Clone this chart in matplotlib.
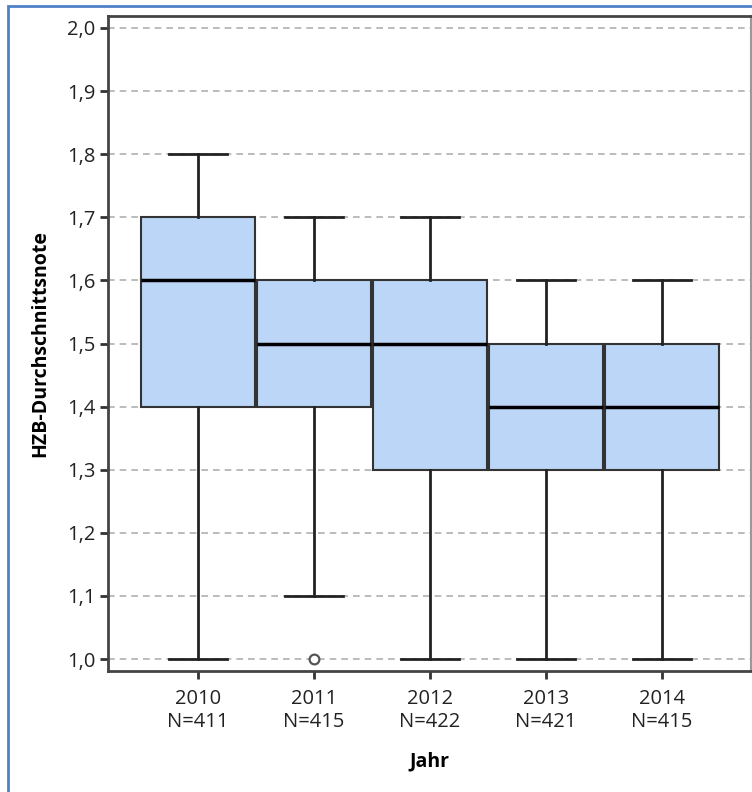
import matplotlib
matplotlib.use("Agg")
import matplotlib.pyplot as plt
from matplotlib.patches import Rectangle

years = ["2010", "2011", "2012", "2013", "2014"]
counts = [411, 415, 422, 421, 415]
whisker_lo = [1.0, 1.1, 1.0, 1.0, 1.0]
q1 = [1.4, 1.4, 1.3, 1.3, 1.3]
median = [1.6, 1.5, 1.5, 1.4, 1.4]
q3 = [1.7, 1.6, 1.6, 1.5, 1.5]
whisker_hi = [1.8, 1.7, 1.7, 1.6, 1.6]
outliers = [[], [1.0], [], [], []]
yticks = [1.0, 1.1, 1.2, 1.3, 1.4, 1.5, 1.6, 1.7, 1.8, 1.9, 2.0]

plt.rcParams["font.family"] = ["Open Sans", "DejaVu Sans"]

W, H = 752, 792
fig = plt.figure(figsize=(W / 100, H / 100), dpi=100)
fig.patches.append(Rectangle((8 / W, -0.1), 1.2, 1 - 6 / H + 0.1,
                             transform=fig.transFigure, fill=False,
                             edgecolor="#4f81c7", lw=2.0))

ax = fig.add_axes([108 / W, 1 - 671 / H, (751 - 108) / W, (671 - 16) / H])

stats = []
for i, y in enumerate(years):
    stats.append({"whislo": whisker_lo[i], "q1": q1[i], "med": median[i],
                  "q3": q3[i], "whishi": whisker_hi[i], "fliers": outliers[i],
                  "label": f"{y}\nN={counts[i]}"})

pos = list(range(len(years)))
ax.bxp(stats, positions=pos, widths=0.985, patch_artist=True,
       boxprops=dict(facecolor="#bcd6f7", edgecolor="#333333", lw=1.5),
       medianprops=dict(color="black", lw=2.5),
       whiskerprops=dict(color="#222222", lw=2.0),
       capprops=dict(color="#222222", lw=2.0), capwidths=0.5,
       flierprops=dict(marker="o", markersize=7, markerfacecolor="white",
                       markeredgecolor="#555555", markeredgewidth=1.6),
       zorder=3)

ax.set_xlim(-0.776, 4.767)
ax.set_ylim(0.981, 2.019)
ax.set_yticks(yticks)
ax.set_yticklabels([f"{v:.1f}".replace(".", ",") for v in yticks])
ax.yaxis.grid(True, ls=(0, (4, 3)), color="#b0b0b0", lw=1.2, zorder=0)
ax.set_axisbelow(True)

ax.tick_params(axis="both", length=6, width=2, color="#333333",
               labelsize=14.5, labelcolor="#222222", pad=3)
ax.tick_params(axis="x", pad=7)
for s in ["left", "bottom", "top"]:
    ax.spines[s].set_color("#444444")
    ax.spines[s].set_linewidth(2)
ax.spines["right"].set_color("#999999")
ax.spines["right"].set_linewidth(1.5)

ax.set_ylabel("HZB-Durchschnittsnote", fontsize=14, fontweight="bold",
              labelpad=12)
ax.set_xlabel("Jahr", fontsize=14, fontweight="bold", labelpad=14)

fig.savefig("out.png", dpi=100)
